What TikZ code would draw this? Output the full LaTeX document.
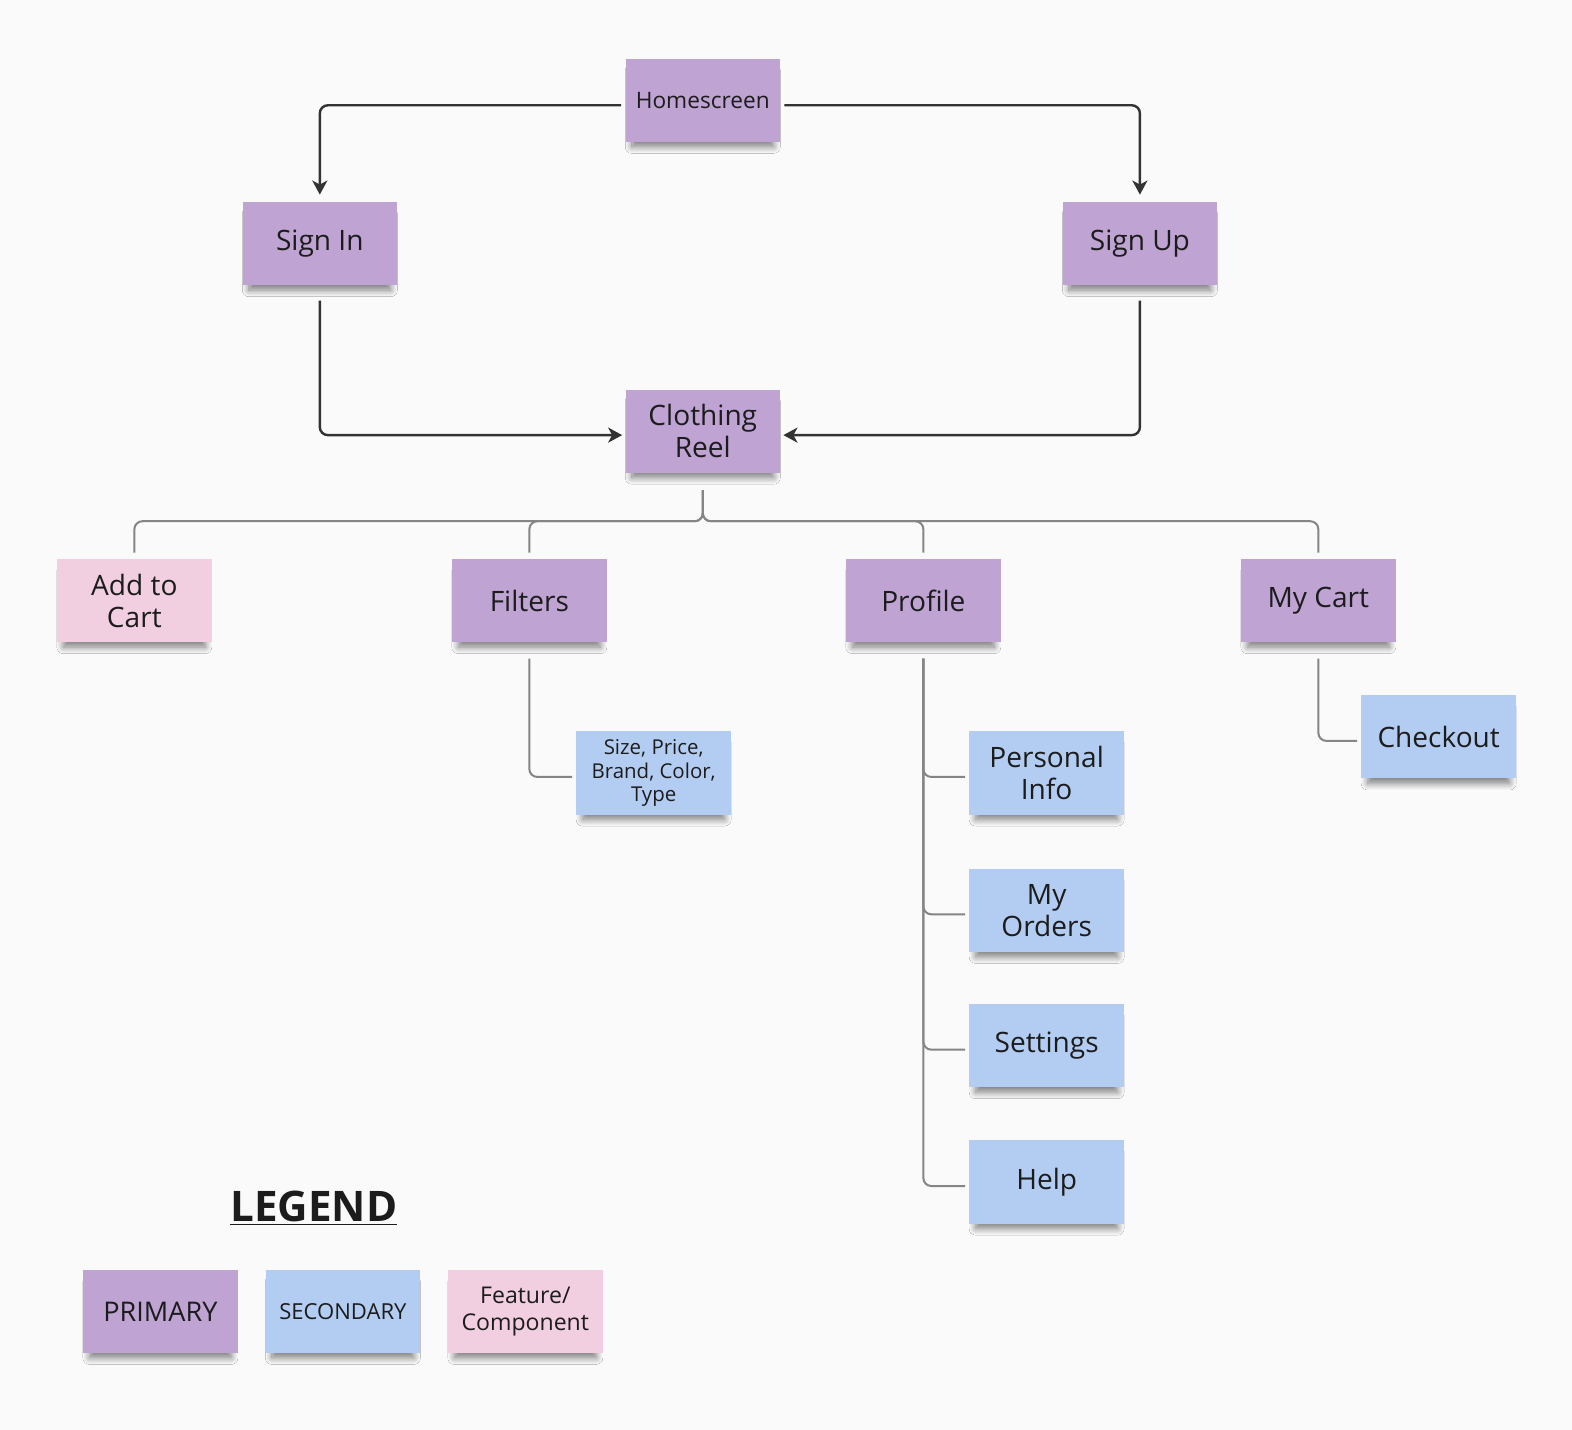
\documentclass[tikz,border=0pt]{standalone}
\usepackage{fontspec}
\setmainfont{Open Sans}
\usetikzlibrary{arrows.meta,shadows.blur,calc}
\definecolor{bg}{HTML}{FAFAFA}
\definecolor{prim}{HTML}{BEA3D3}
\definecolor{sec}{HTML}{B3CDF2}
\definecolor{feat}{HTML}{F2CFE0}
\definecolor{txt}{HTML}{1C1C1C}
\definecolor{arr}{HTML}{333333}
\definecolor{treec}{HTML}{858585}
\tikzset{
  note/.style={minimum width=77pt, minimum height=41.5pt, inner sep=2pt, align=center,
    text=txt, font=\fontsize{14}{16}\selectfont,
    blur shadow={shadow xshift=0pt, shadow yshift=-4.5pt, shadow scale=0.92, shadow opacity=50, shadow blur radius=3.5pt, shadow blur steps=12}},
  primnote/.style={note, fill=prim},
  secnote/.style={note, fill=sec},
  featnote/.style={note, fill=feat},
  flow/.style={draw=arr, line width=1.2pt, rounded corners=4pt, -{Stealth[length=7pt,width=7.5pt,inset=2pt]}},
  tree/.style={draw=treec, line width=1pt, rounded corners=4pt}
}
\begin{document}
\begin{tikzpicture}[x=0.5pt,y=-0.5pt]
\fill[bg] (0,0) rectangle (1568,1426);
\useasboundingbox (0,0) rectangle (1568,1426);

\node[primnote, font=\fontsize{11.3}{13}\selectfont] (home) at (701,100) {Homescreen};
\node[primnote] (signin) at (319,243) {Sign In};
\node[primnote] (signup) at (1137,243) {Sign Up};
\node[primnote] (reel) at (701,430) {Clothing\\Reel};
\node[featnote] (addcart) at (134,599) {Add to\\Cart};
\node[primnote] (filters) at (528,599) {Filters};
\node[primnote] (profile) at (921,599) {Profile};
\node[primnote] (mycart) at (1315,599) {My Cart};
\node[secnote, font=\fontsize{10.2}{11.6}\selectfont] (sizes) at (652,771) {Size, Price,\\Brand, Color,\\Type};
\node[secnote] (pinfo) at (1044,771) {Personal\\Info};
\node[secnote] (orders) at (1044,908) {My\\Orders};
\node[secnote] (settings) at (1044,1043) {Settings};
\node[secnote] (help) at (1044,1179) {Help};
\node[secnote] (checkout) at (1435,735) {Checkout};

\node[text=txt, font=\fontsize{21}{24}\selectfont\bfseries] (legend) at (313,1205) {\underline{LEGEND}};
\node[primnote, font=\fontsize{13.5}{16}\selectfont] (lprim) at (160,1308) {PRIMARY};
\node[secnote, font=\fontsize{11}{13}\selectfont] (lsec) at (342,1308) {SECONDARY};
\node[featnote, font=\fontsize{11.5}{13.5}\selectfont] (lfeat) at (524,1308) {Feature/\\Component};

% flow arrows
\draw[flow, shorten <=2pt, shorten >=3.5pt] ([yshift=-2.5pt]home.west) -| (signin.north);
\draw[flow, shorten <=2pt, shorten >=3.5pt] ([yshift=-2.5pt]home.east) -| (signup.north);
\draw[flow, shorten <=7.5pt, shorten >=1.5pt] (signin.south) |- ([yshift=-2pt]reel.west);
\draw[flow, shorten <=7.5pt, shorten >=1.5pt] (signup.south) |- ([yshift=-2pt]reel.east);

% tree
\foreach \c in {addcart,filters,profile,mycart}
  \draw[tree, shorten <=8.5pt, shorten >=3pt] (reel.south) -- ++(0,48) -| (\c.north);
\draw[tree, shorten <=8pt, shorten >=2pt] (filters.south) |- ([yshift=-2pt]sizes.west);
\foreach \c in {pinfo,orders,settings,help}
  \draw[tree, shorten <=8pt, shorten >=2pt] (profile.south) |- ([yshift=-2pt]\c.west);
\draw[tree, shorten <=8pt, shorten >=2pt] (mycart.south) |- ([yshift=-2pt]checkout.west);
\end{tikzpicture}
\end{document}
